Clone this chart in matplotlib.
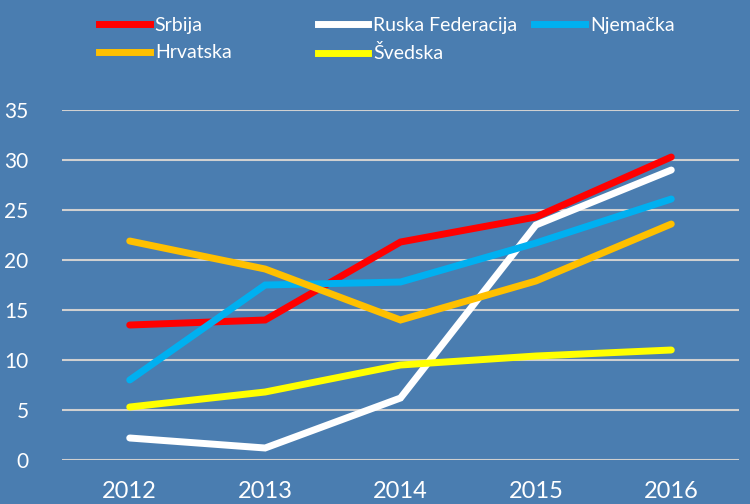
import matplotlib.pyplot as plt
from matplotlib.lines import Line2D

# =====================================================
# DATA
# =====================================================

years = ["2012", "2013", "2014", "2015", "2016"]

srbija = [13.5, 14.0, 21.8, 24.3, 30.3]
ruska = [2.2, 1.2, 6.2, 23.5, 29.0]
njemacka = [8.0, 17.5, 17.8, 21.7, 26.1]
hrvatska = [21.9, 19.1, 14.0, 17.9, 23.6]
svedska = [5.3, 6.8, 9.5, 10.4, 11.0]

series = [
    ("Srbija", srbija, "#FF0000"),
    ("Ruska Federacija", ruska, "#FFFFFF"),
    ("Njemačka", njemacka, "#00B0F0"),
    ("Hrvatska", hrvatska, "#FFC000"),
    ("Švedska", svedska, "#FFFF00"),
]

# =====================================================
# PLOT
# =====================================================

BG = "#4A7DB0"
plt.rcParams["font.family"] = ["Lato", "DejaVu Sans"]

fig = plt.figure(figsize=(7.5, 5.04), dpi=100, facecolor=BG)
ax = fig.add_axes([0.0827, 0.0873, 0.9026, 0.6944])
ax.set_facecolor(BG)

x = list(range(len(years)))
for name, vals, col in series:
    ax.plot(x, vals, color=col, linewidth=5, solid_capstyle="round",
            solid_joinstyle="miter", label=name, zorder=3)

ax.set_xlim(-0.5, len(years) - 0.5)
ax.set_ylim(0, 35)
ax.set_yticks(range(0, 36, 5))
ax.set_xticks(x)
ax.set_xticklabels(years)

for y in range(0, 36, 5):
    ax.axhline(y, color="#D0D0D0", linewidth=1.5, zorder=1)

for s in ax.spines.values():
    s.set_visible(False)
ax.tick_params(axis="both", length=0, colors="white")
ax.tick_params(axis="y", labelsize=15, pad=24)
ax.tick_params(axis="x", labelsize=17, pad=15)

# legend: three columns placed by hand
def col_legend(names, x0):
    hs = []
    for name, vals, col in series:
        if name in names:
            hs.append(Line2D([0], [0], color=col, linewidth=5, label=name))
    leg = fig.legend(handles=hs, loc="upper left", bbox_to_anchor=(x0, 0.99),
                     frameon=False, fontsize=14, labelcolor="white",
                     handlelength=2.6, handletextpad=0.25, labelspacing=0.55,
                     borderaxespad=0.2)
    return leg

col_legend(["Srbija", "Hrvatska"], 0.117)
col_legend(["Ruska Federacija", "Švedska"], 0.408)
col_legend(["Njemačka"], 0.697)

fig.savefig("out.png", dpi=100, facecolor=BG)
